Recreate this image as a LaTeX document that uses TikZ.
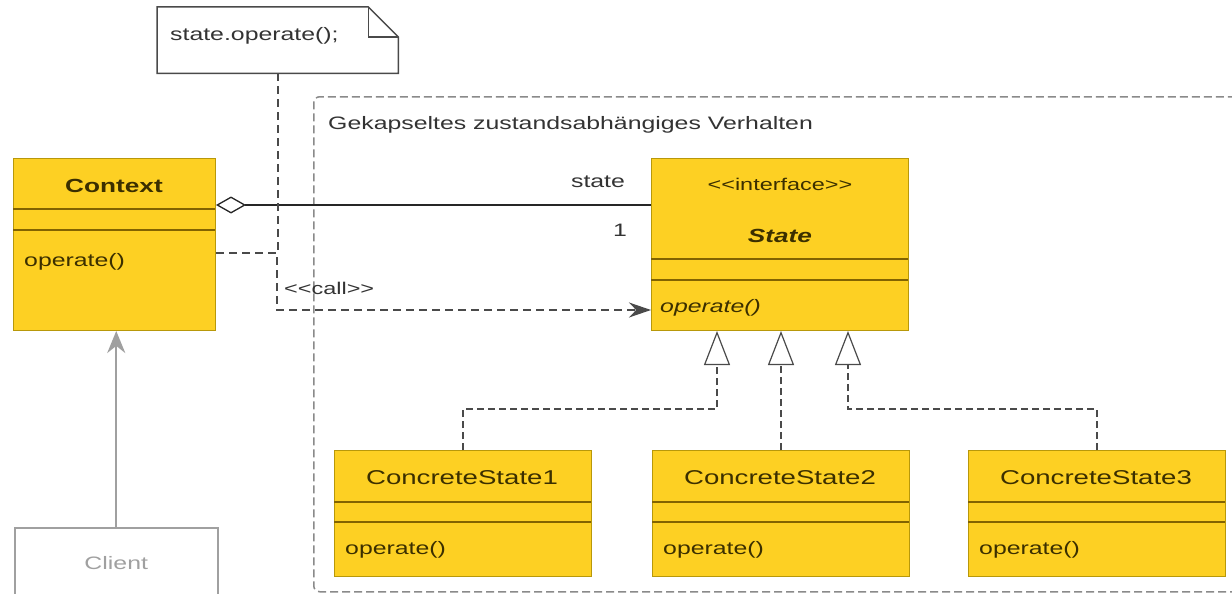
\documentclass[tikz,border=0pt]{standalone}
\usepackage{fontspec}
\setmainfont[FakeStretch=1.38]{Liberation Sans}
\usetikzlibrary{arrows.meta,calc}
\definecolor{umlfill}{HTML}{FDD023}
\definecolor{umledge}{HTML}{B8980A}
\definecolor{umldiv}{HTML}{826300}
\definecolor{umltext}{HTML}{3B2F00}
\definecolor{linegray}{HTML}{4A4A4A}
\definecolor{grpgray}{HTML}{8A8A8A}
\definecolor{cligray}{HTML}{A0A0A0}
\definecolor{txtgray}{HTML}{333333}
\begin{document}
\begin{tikzpicture}[x=1pt,y=-1pt,
  cbox/.style={draw=umledge, fill=umlfill, line width=1pt, inner sep=0pt, anchor=north west, rectangle, minimum width=257pt, minimum height=126pt},
  divider/.style={draw=umldiv, line width=2.5pt},
  ctitle/.style={text=umltext, font=\fontsize{20}{23}\selectfont, inner sep=0pt},
  cop/.style={text=umltext, font=\fontsize{18}{21}\selectfont, anchor=west, inner sep=0pt},
  lbl/.style={text=txtgray, font=\fontsize{18}{21}\selectfont, inner sep=0pt},
  realize/.style={draw=linegray, line width=1.2pt, dash pattern=on 7pt off 4pt, -{Triangle[open,length=34pt,width=26pt]}},
  callline/.style={draw=linegray, line width=1.6pt, dash pattern=on 8pt off 5pt},
  notebox/.style={draw=linegray, line width=1.5pt, fill=white}
]
\useasboundingbox (0,0) rectangle (1232,594);
\clip (0,0) rectangle (1232,594);
\fill[white] (0,0) rectangle (1232,594);

% group frame
\node[draw=grpgray, line width=1.5pt, dash pattern=on 8pt off 4pt, rounded corners=6pt, anchor=north west, minimum width=940pt, minimum height=495pt, inner sep=0pt] (grp) at (313,96) {};
\node[lbl, anchor=west] (grplbl) at (328,125) {Gekapseltes zustandsabhängiges Verhalten};

% note
\node[anchor=north west, minimum width=241pt, minimum height=66pt, inner sep=0pt] (note) at (157,7) {};
\draw[notebox] (note.north west) -- ($(note.north east)+(-30,0)$) -- ($(note.north east)+(0,30)$) -- (note.south east) -- (note.south west) -- cycle;
\draw[draw=linegray, line width=1.5pt] ($(note.north east)+(-30,0)$) -- ($(note.north east)+(-30,30)$) -- ($(note.north east)+(0,30)$);
\node[lbl, anchor=west] (notetxt) at (170,36) {state.operate();};

% Context
\node[cbox, minimum width=202pt, minimum height=172pt] (ctx) at (13,158) {};
\draw[divider] (13,209) -- (215,209);
\draw[divider] (13,230) -- (215,230);
\node[ctitle, font=\fontsize{19}{22}\selectfont\bfseries] (ctxT) at (114,186) {Context};
\node[cop] (ctxO) at (24,262) {operate()};

% State
\node[cbox, minimum height=172pt] (st) at (651,158) {};
\draw[divider] (651,259) -- (908,259);
\draw[divider] (651,280) -- (908,280);
\node[ctitle, font=\fontsize{17}{20}\selectfont] (stS) at (780,184) {<\kern0pt<interface>\kern0pt>};
\node[ctitle, font=\fontsize{19}{22}\selectfont\bfseries\itshape] (stT) at (780,236) {State};
\node[cop, font=\fontsize{18}{21}\selectfont\itshape] (stO) at (660,308) {operate()};

% Concrete states
\node[cbox] (cs1) at (334,450) {};
\draw[divider] (334,502) -- (591,502);
\draw[divider] (334,522) -- (591,522);
\node[ctitle] (cs1T) at (462,478) {ConcreteState1};
\node[cop] (cs1O) at (345,550) {operate()};

\node[cbox] (cs2) at (652,450) {};
\draw[divider] (652,502) -- (909,502);
\draw[divider] (652,522) -- (909,522);
\node[ctitle] (cs2T) at (780,478) {ConcreteState2};
\node[cop] (cs2O) at (663,550) {operate()};

\node[cbox] (cs3) at (968,450) {};
\draw[divider] (968,502) -- (1225,502);
\draw[divider] (968,522) -- (1225,522);
\node[ctitle] (cs3T) at (1096,478) {ConcreteState3};
\node[cop] (cs3O) at (979,550) {operate()};

% Client
\node[draw=cligray, line width=1.5pt, fill=white, anchor=north west, minimum width=203pt, minimum height=70pt, inner sep=0pt, text=cligray, font=\fontsize{18}{21}\selectfont] (client) at (14,527) {Client};
\draw[draw=cligray, line width=2pt, -{Stealth[length=22pt,width=18pt]}] (client.north) -- (client.north |- ctx.south);

% aggregation
\coordinate (aggA) at ($(ctx.north east)+(0,47)$);
\draw[line width=1.3pt, draw=black!85, {Diamond[open,length=30pt,width=17pt]}-] (aggA) -- (aggA -| st.west);
\node[lbl] (aggrole) at (598,182) {state};
\node[lbl] (aggmult) at (620,230) {1};

% call dependency
\coordinate (callstart) at ($(ctx.north east)+(0,95)$);
\coordinate (callbend) at (277,310);
\draw[callline] (note.south) -- (note.south |- callstart);
\draw[callline, -{Stealth[length=22pt,width=15pt]}] (callstart) -| (callbend) -- (callbend -| st.west);
\node[lbl, font=\fontsize{17}{20}\selectfont, anchor=west] (calllbl) at (284,288) {<\kern0pt<call>\kern0pt>};

% realizations
\draw[realize] (cs1.north) |- ($(st.south)+(-63,78)$) -- ($(st.south)+(-63,0)$);
\draw[realize] (cs2.north) -- (cs2.north |- st.south);
\draw[realize] (cs3.north) |- ($(st.south)+(68,78)$) -- ($(st.south)+(68,0)$);
\end{tikzpicture}
\end{document}
